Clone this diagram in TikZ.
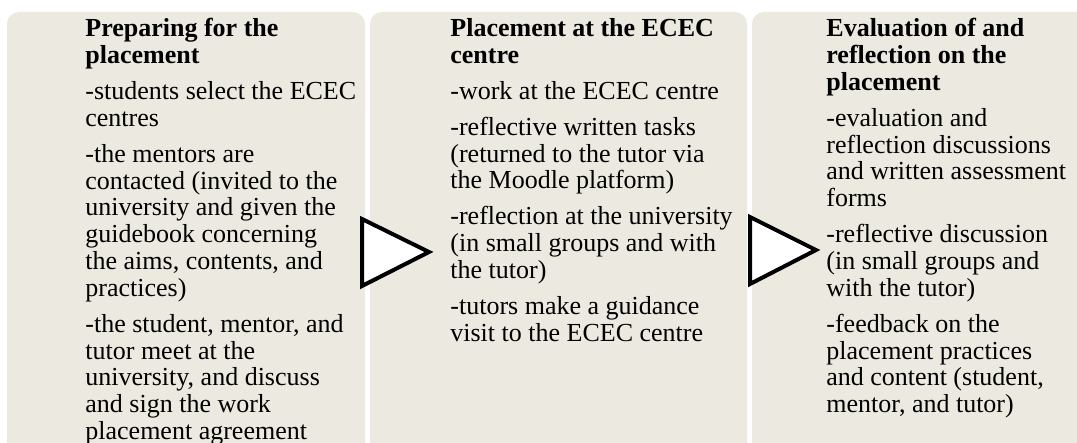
\documentclass[tikz,border=0pt]{standalone}
\usepackage{fontspec}
\setmainfont{Liberation Serif}
\usepackage{tikz}
\usetikzlibrary{positioning}
\definecolor{panelgray}{RGB}{236,233,224}
\tikzset{
    panel/.style={fill=panelgray, rounded corners=6pt},
    stagetext/.style={anchor=north west, align=left, inner sep=0pt,
        font=\fontsize{13}{13.4}\selectfont},
    chevron/.style={draw=black, fill=white, line width=2pt, line join=miter},
}

\begin{document}
\begin{tikzpicture}[x=0.5pt, y=-0.5pt]
	\clip (0,0) rectangle (1077,443);
	% three stage panels, open at the bottom
	\fill[panel] (7,470)--(7,12)--(365,12)--(365,470);
	\fill[panel] (370,470)--(370,12)--(747,12)--(747,470);
	\fill[panel] (752,470)--(752,12)--(1100,12)--(1100,470);
%
	\node[stagetext] (prep) at (85,18) {\textbf{Preparing for the}\\ \textbf{placement}\\[4.6pt]
		-students select the ECEC\\ centres\\[4.6pt]
		-the mentors are\\ contacted (invited to the\\ university and given the\\
		guidebook concerning\\ the aims, contents, and\\ practices)\\[4.6pt]
		-the student, mentor, and\\ tutor meet at the\\ university, and discuss\\
		and sign the work\\ placement agreement};
	\node[stagetext] (place) at (450,18) {\textbf{Placement at the ECEC}\\ \textbf{centre}\\[4.6pt]
		-work at the ECEC centre\\[4.6pt]
		-reflective written tasks\\ (returned to the tutor via\\ the Moodle platform)\\[4.6pt]
		-reflection at the university\\ (in small groups and with\\ the tutor)\\[4.6pt]
		-tutors make a guidance\\ visit to the ECEC centre};
	\node[stagetext] (eval) at (826,18) {\textbf{Evaluation of and}\\ \textbf{reflection on the}\\ \textbf{placement}\\[4.6pt]
		-evaluation and\\ reflection discussions\\ and written assessment\\ forms\\[4.6pt]
		-reflective discussion\\ (in small groups and\\ with the tutor)\\[4.6pt]
		-feedback on the\\ placement practices\\ and content (student,\\ mentor, and tutor)};
%
	\draw[chevron] (362,219)--(429,252)--(362,286)--cycle;
	\draw[chevron] (750,217)--(816,250)--(750,284)--cycle;
\end{tikzpicture}
\end{document}
